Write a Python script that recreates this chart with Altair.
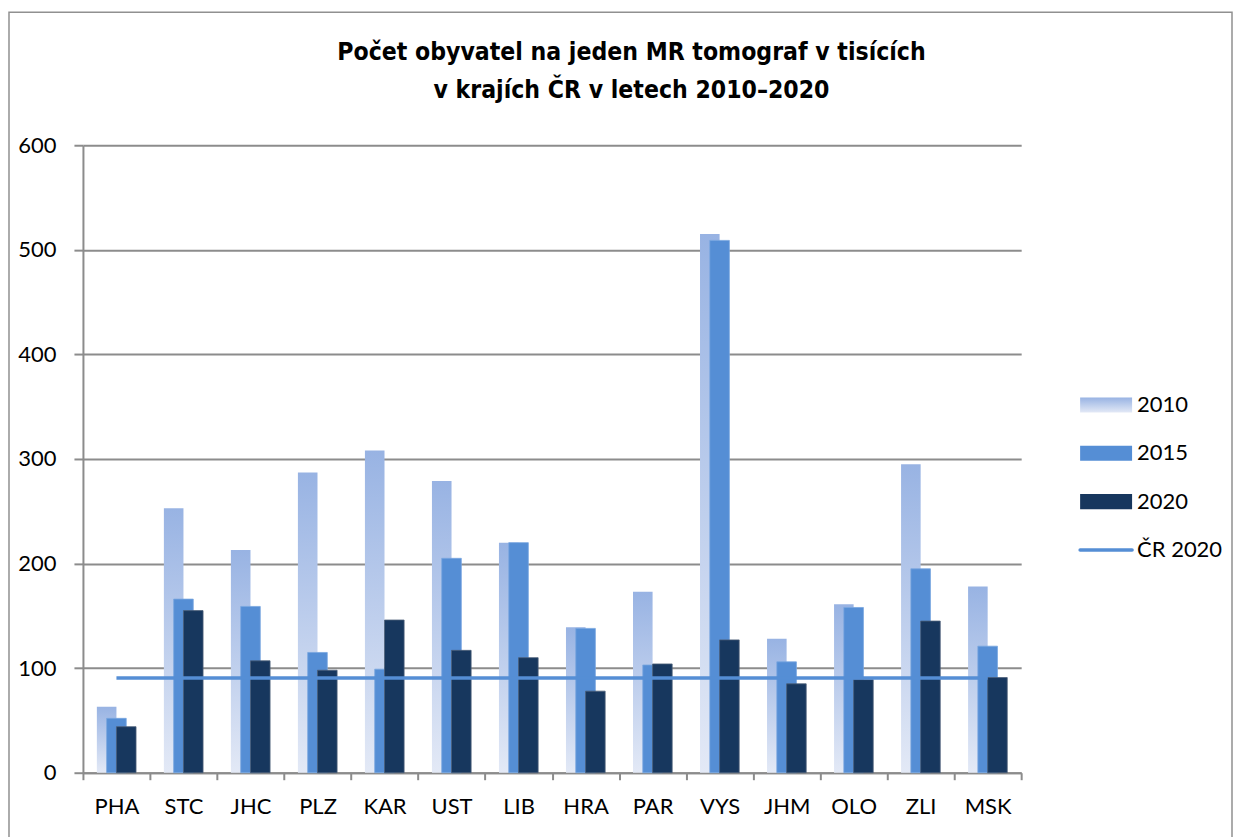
import altair as alt
import pandas as pd

regions = ["PHA", "STC", "JHC", "PLZ", "KAR", "UST", "LIB", "HRA", "PAR", "VYS", "JHM", "OLO", "ZLI", "MSK"]
v2010 = [63, 253, 213, 287, 308, 279, 220, 139, 173, 515, 128, 161, 295, 178]
v2015 = [52, 166, 159, 115, 99, 205, 220, 138, 103, 509, 106, 158, 195, 121]
v2020 = [44, 155, 107, 98, 146, 117, 110, 78, 104, 127, 85, 89, 145, 91]
cr2020 = 90.5
legend_labels = ["2010", "2015", "2020", "ČR 2020"]
y_ticks = [0, 100, 200, 300, 400, 500, 600]
title_lines = ["Počet obyvatel na jeden MR tomograf v tisících", "v krajích ČR v letech 2010–2020"]

FONT = "Lato"
TITLE_FONT = "'Liberation Sans Narrow', 'Arial Narrow', 'DejaVu Sans Condensed', sans-serif"
GRID = "#8c8c8c"
C2015 = "#558ed5"
C2020 = "#17375e"
grad = alt.LinearGradient(
    gradient="linear", x1=0, x2=0, y1=0, y2=1,
    stops=[alt.GradientStop(color="#98b3e3", offset=0), alt.GradientStop(color="#e3e9f6", offset=1)],
)

df = pd.DataFrame({"region": regions, "y2010": v2010, "y2015": v2015, "y2020": v2020,
                   "cr": [cr2020] * len(regions)})

xenc = alt.X("region:N", sort=regions, title=None,
             scale=alt.Scale(domain=regions, paddingInner=0, paddingOuter=0),
             axis=alt.Axis(labelAngle=0, tickBand="extent", tickSize=7, labelPadding=17,
                           domainColor=GRID, domainWidth=2, tickColor=GRID, tickWidth=2,
                           labelFontSize=22, labelFont=FONT, labelColor="#000", grid=False))
ysc = alt.Scale(domain=[0, 600], nice=False)
yaxis = alt.Axis(values=y_ticks, tickSize=9, labelPadding=18, domainColor=GRID, domainWidth=2,
                 tickColor=GRID, tickWidth=2, grid=True, gridColor=GRID, gridWidth=2,
                 labelFontSize=22, labelFont=FONT, labelColor="#000")

base = alt.Chart(df)
border = alt.Chart(pd.DataFrame({"a": [0]})).mark_rect(
    fill="white", fillOpacity=0, stroke="#909090", strokeWidth=1.5
).encode(x=alt.value(-74), x2=alt.value(1150), y=alt.value(-133), y2=alt.value(700))

b2010 = base.mark_bar(width=19.6, xOffset=-9.8, color=grad).encode(
    x=xenc, y=alt.Y("y2010:Q", scale=ysc, axis=yaxis, title=None))
b2015 = base.mark_bar(width=19.6, xOffset=0, color=C2015, stroke="#78a6e0", strokeWidth=0.8).encode(
    x=xenc, y=alt.Y("y2015:Q", scale=ysc, axis=None))
b2020 = base.mark_bar(width=19.6, xOffset=9.8, color=C2020, stroke="#4d5f78", strokeWidth=0.8).encode(
    x=xenc, y=alt.Y("y2020:Q", scale=ysc, axis=None))
line = base.mark_line(color=C2015, strokeWidth=3.5).encode(
    x=xenc, y=alt.Y("cr:Q", scale=ysc, axis=None))

ldf = pd.DataFrame({"label": legend_labels})
ly = alt.Y("label:N", sort=legend_labels, axis=None,
           scale=alt.Scale(domain=legend_labels, range=[260, 405], padding=0))
lbase = alt.Chart(ldf)
rect_shape = "M-1,-0.29H1V0.29H-1Z"
l2010 = lbase.transform_filter(alt.datum.label == "2010").mark_point(
    shape=rect_shape, size=2704, filled=True, fill=grad, opacity=1, strokeWidth=0
).encode(x=alt.value(1024), y=ly)
l2015 = lbase.transform_filter(alt.datum.label == "2015").mark_point(
    shape=rect_shape, size=2704, filled=True, fill=C2015, opacity=1, strokeWidth=0
).encode(x=alt.value(1024), y=ly)
l2020 = lbase.transform_filter(alt.datum.label == "2020").mark_point(
    shape=rect_shape, size=2704, filled=True, fill=C2020, opacity=1, strokeWidth=0
).encode(x=alt.value(1024), y=ly)
lcr = lbase.transform_filter(alt.datum.label == "ČR 2020").mark_point(
    shape="M-1,0H1", size=2704, filled=False, stroke=C2015, strokeWidth=3.5, strokeCap="round", opacity=1
).encode(x=alt.value(1024), y=ly)
ltext = lbase.mark_text(align="left", baseline="middle", fontSize=22, font=FONT, color="#000").encode(
    x=alt.value(1055), y=ly, text="label:N")

chart = alt.layer(border, b2010, b2015, b2020, line, l2010, l2015, l2020, lcr, ltext).resolve_scale(
    y="independent"
).properties(
    width=939, height=628,
    padding={"left": 0, "top": 3, "right": 0, "bottom": 0},
    title=alt.TitleParams(text=title_lines, fontSize=24.6, font=TITLE_FONT,
                          fontWeight="bold", color="#000", anchor="middle", frame="bounds",
                          lineHeight=38, offset=-92, dx=11),
).configure_view(stroke=None)

chart.save("out.html", embed_options={"renderer": "svg", "actions": False})
